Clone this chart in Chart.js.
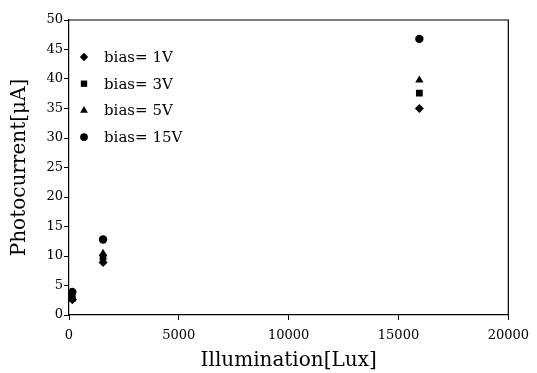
<!DOCTYPE html>
<html>
<head>
<meta charset="utf-8">
<script src="https://cdn.jsdelivr.net/npm/chart.js@4"></script>
<style>
  html, body { margin: 0; padding: 0; background: #fff; }
  #wrap { width: 537px; height: 373px; }
</style>
</head>
<body>
<div id="wrap"><canvas id="chart"></canvas></div>
<script>
// illumination values (Lux) for each measurement
const illumination = [150, 1550, 15950];

const bias1V = [2.6, 8.9, 35.0];
const bias3V = [2.8, 9.8, 37.6];
const bias5V = [3.0, 10.4, 39.8];
const bias15V = [3.9, 12.8, 46.8];

const seriesLabels = ['bias= 1V', 'bias= 3V', 'bias= 5V', 'bias= 15V'];
const seriesShapes = ['rectRot', 'rect', 'triangle', 'circle'];
const seriesSizes = [4.5, 4.8, 4.8, 4.2];

const xTicks = [0, 5000, 10000, 15000, 20000];
const yTicks = [0, 5, 10, 15, 20, 25, 30, 35, 40, 45, 50];

const fontFamily = '"DejaVu Serif", "Liberation Serif", serif';

function toPoints(values) {
    return values.map((v, i) => ({ x: illumination[i], y: v }));
}

const allSeries = [bias1V, bias3V, bias5V, bias15V];

const datasets = allSeries.map((values, i) => ({
    label: seriesLabels[i],
    data: toPoints(values),
    pointStyle: seriesShapes[i],
    pointRadius: seriesSizes[i],
    pointHoverRadius: seriesSizes[i],
    backgroundColor: '#000',
    borderColor: '#000',
    borderWidth: 0,
    showLine: false
}));

// draws the box frame and an in-plot legend
const framePlugin = {
    id: 'frameAndLegend',
    afterDraw(chart) {
        const ctx = chart.ctx;
        const area = chart.chartArea;
        ctx.save();
        ctx.strokeStyle = '#000';
        ctx.lineWidth = 1.2;
        ctx.beginPath();
        ctx.moveTo(area.left, area.top);
        ctx.lineTo(area.right, area.top);
        ctx.lineTo(area.right, area.bottom);
        ctx.stroke();

        ctx.font = '15px ' + fontFamily;
        ctx.textBaseline = 'middle';
        seriesLabels.forEach((label, i) => {
            const y = area.top + 37 + i * 26.7;
            const x = area.left + 15;
            ctx.fillStyle = '#000';
            Chart.helpers.drawPoint(ctx, {
                pointStyle: seriesShapes[i],
                radius: seriesSizes[i] - 0.3,
                rotation: 0,
                borderWidth: 0
            }, x, y);
            ctx.fillStyle = '#000';
            ctx.fillText(label, area.left + 35, y + 1);
        });
        ctx.restore();
    }
};

const axisGrid = {
    display: true,
    drawOnChartArea: false,
    drawTicks: true,
    tickLength: 5,
    tickColor: '#000',
    tickWidth: 1
};

new Chart(document.getElementById('chart'), {
    type: 'scatter',
    data: { datasets: datasets },
    options: {
        responsive: true,
        maintainAspectRatio: false,
        animation: false,
        layout: { padding: { top: 20, right: 28, left: 0, bottom: 0 } },
        plugins: {
            legend: { display: false },
            tooltip: { enabled: false }
        },
        scales: {
            x: {
                type: 'linear',
                min: 0,
                max: 20000,
                afterBuildTicks: (scale) => { scale.ticks = xTicks.map(v => ({ value: v })); },
                afterFit: (scale) => { scale.height = 58; },
                grid: axisGrid,
                border: { display: true, color: '#000', width: 1.2 },
                ticks: {
                    color: '#000',
                    font: { family: fontFamily, size: 13 },
                    padding: 8,
                    maxRotation: 0,
                    callback: (v) => String(v)
                },
                title: {
                    display: true,
                    text: 'Illumination[Lux]',
                    color: '#000',
                    font: { family: fontFamily, size: 20 },
                    padding: { top: 0, bottom: 0 }
                }
            },
            y: {
                type: 'linear',
                min: 0,
                max: 50,
                afterBuildTicks: (scale) => { scale.ticks = yTicks.map(v => ({ value: v })); },
                afterFit: (scale) => { scale.width = 69; },
                grid: axisGrid,
                border: { display: true, color: '#000', width: 1.2 },
                ticks: {
                    color: '#000',
                    font: { family: fontFamily, size: 13 },
                    padding: 1,
                    callback: (v) => String(v)
                },
                title: {
                    display: true,
                    text: 'Photocurrent[μA]',
                    color: '#000',
                    font: { family: fontFamily, size: 20 },
                    padding: { top: 8, bottom: 0 }
                }
            }
        }
    },
    plugins: [framePlugin]
});
</script>
</body>
</html>
